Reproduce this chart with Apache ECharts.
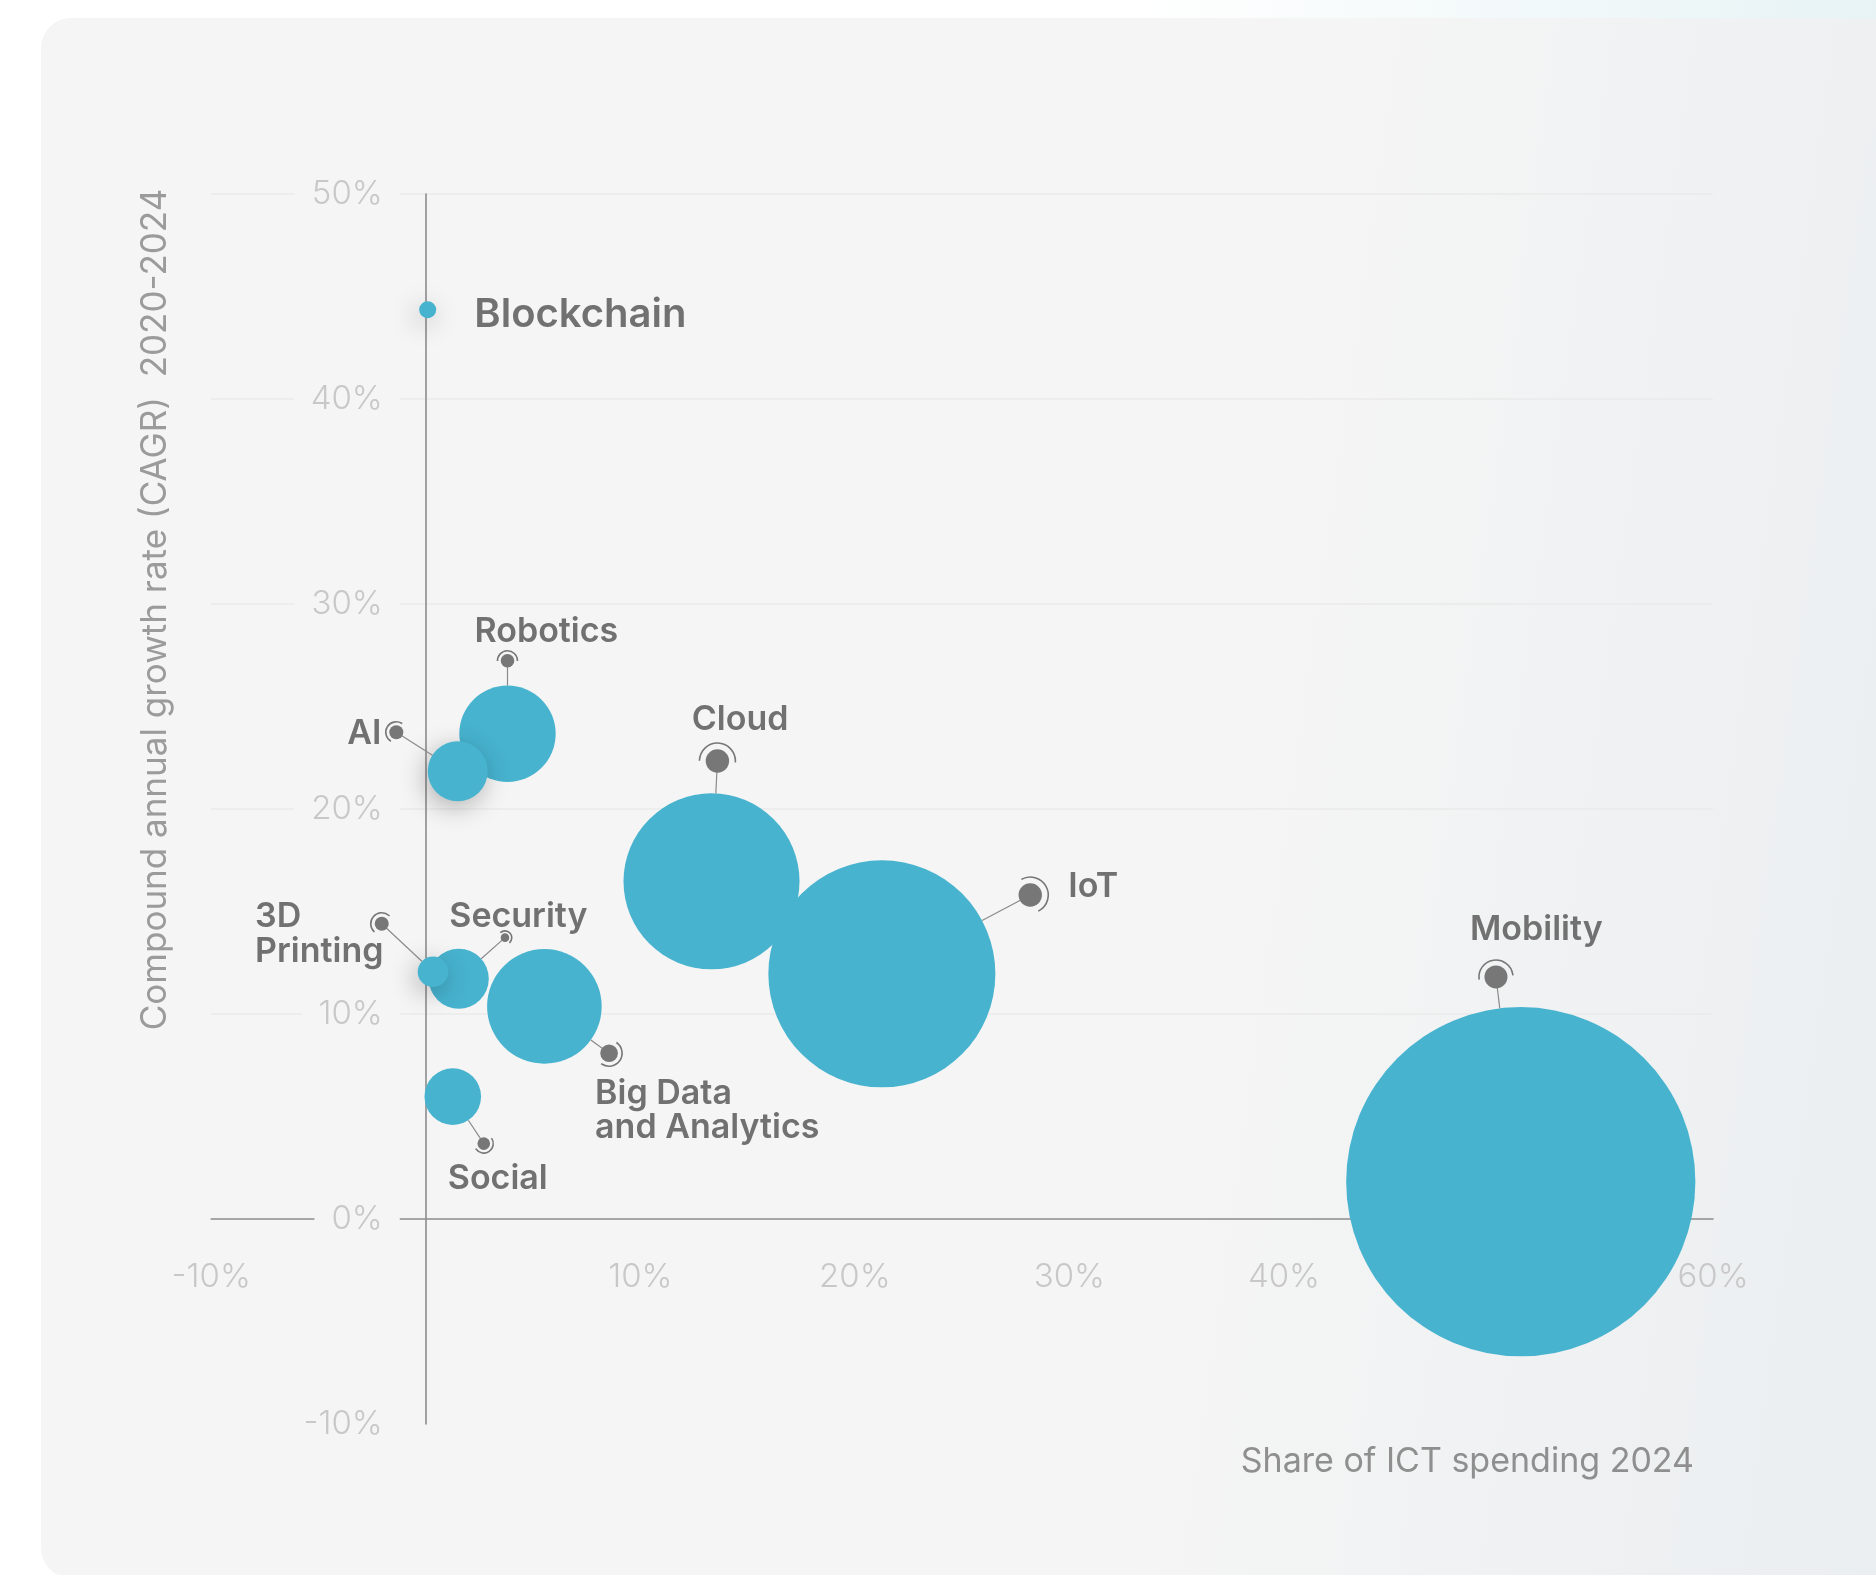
<!DOCTYPE html>
<html>
<head>
<meta charset="utf-8">
<script src="https://cdn.jsdelivr.net/npm/echarts@6/dist/echarts.min.js"></script>
<style>
  html, body { margin: 0; padding: 0; width: 1876px; height: 1575px; overflow: hidden;
    background: linear-gradient(90deg, #ffffff 0%, #ffffff 60%, #e7f3f5 100%); }
  #card { position: absolute; left: 41px; top: 18px; width: 1900px; height: 1560px;
    border-radius: 30px;
    background: linear-gradient(98deg, #f5f5f5 0%, #f5f5f5 62%, #eff1f2 82%, #e9eef0 100%); }
  #chart { position: absolute; left: 0; top: 0; width: 1876px; height: 1575px; }
</style>
</head>
<body>
<div id="card"></div>
<div id="chart"></div>
<script>
// ---- data ----
const categories = ['Blockchain', 'Robotics', 'AI', 'Cloud', 'IoT', 'Security', '3D Printing', 'Big Data and Analytics', 'Social', 'Mobility'];
const labelText = ['Blockchain', 'Robotics', 'AI', 'Cloud', 'IoT', 'Security', '3D\nPrinting', 'Big Data\nand Analytics', 'Social', 'Mobility'];
const ictShare2024 = [0.09, 3.81, 1.49, 13.32, 21.26, 1.54, 0.34, 5.53, 1.26, 51.04];
const cagr2020to2024 = [44.35, 23.67, 21.84, 16.47, 11.96, 11.72, 12.06, 10.37, 5.97, 1.82];
const bubbleValue = [2.9, 92.9, 36, 309.8, 515.3, 36, 9.4, 131.3, 32, 1219.4];
const xTickRange = { min: -10, max: 60, step: 10 };
const yTickRange = { min: -10, max: 50, step: 10 };
const xTitle = 'Share of ICT spending 2024';
const yTitle = 'Compound annual growth rate (CAGR)  2020-2024';

// ---- styling / annotation layout (pixel offsets from bubble centre) ----
const FONT = 'Inter, "Noto Sans", sans-serif';
const BUBBLE = '#47b3cf';
const PIN = '#777777';
const LABEL = '#717171';
const TICK = '#c8c8c8';
const GRID = { left: 211.2, right: 163, top: 194, bottom: 151 };
const H = 1575;
const TEXT_DY = 2.5;
const shadowed = ['Blockchain', 'AI', '3D Printing'];
const annot = {
  'Blockchain': { label: [46.7, 2.7], align: 'left', size: 40 },
  'Robotics': { dot: [0, -73], r: 6.8, arc: 10, label: [-33, -31], align: 'left' },
  'AI': { dot: [-61.4, -39], r: 7, arc: 10.5, label: [-15, -0.6], align: 'right' },
  'Cloud': { dot: [5.9, -120.3], r: 11.7, arc: 18, label: [-25.6, -43.6], align: 'left' },
  'IoT': { dot: [148.4, -78.8], r: 11.7, arc: 18, label: [38, -11], align: 'left' },
  'Security': { dot: [46.2, -41.1], r: 4.3, arc: 6.8, label: [-55.7, -23.7], align: 'left' },
  '3D Printing': { dot: [-51.3, -48], r: 7, arc: 11, label: [-126.7, 7.8], align: 'left', lh: 34.6 },
  'Big Data and Analytics': { dot: [64.7, 46.8], r: 8.8, arc: 13, label: [-14, 55], align: 'left', lh: 34.6 },
  'Social': { dot: [31, 47], r: 6.3, arc: 9.5, label: [-36, 33], align: 'left' },
  'Mobility': { dot: [-24.8, -204.7], r: 11.5, arc: 17, label: [-26, -50], align: 'left' }
};
const sizeOf = v => Math.sqrt(v) * 10;

const bubbleData = categories.map((name, i) => {
  const item = { name: name, value: [ictShare2024[i], cagr2020to2024[i], bubbleValue[i], i] };
  if (shadowed.indexOf(name) >= 0) {
    item.itemStyle = { shadowBlur: 26, shadowColor: 'rgba(0,0,0,0.28)', shadowOffsetX: -3, shadowOffsetY: 6 };
  }
  return item;
});

function renderAnnotation(params, api) {
  const i = api.value(3);
  const name = categories[i];
  const a = annot[name];
  const c = api.coord([api.value(0), api.value(1)]);
  const rb = sizeOf(api.value(2)) / 2;
  const children = [];
  if (a.dot) {
    const dx = a.dot[0], dy = a.dot[1];
    const len = Math.sqrt(dx * dx + dy * dy);
    const ux = dx / len, uy = dy / len;
    const px = c[0] + dx, py = c[1] + dy;
    children.push({ type: 'line', shape: { x1: c[0] + ux * rb, y1: c[1] + uy * rb, x2: px, y2: py },
      style: { stroke: '#8a8a8a', lineWidth: 1.2 } });
    children.push({ type: 'circle', shape: { cx: px, cy: py, r: a.r }, style: { fill: PIN } });
    const th = Math.atan2(dy, dx);
    children.push({ type: 'arc', shape: { cx: px, cy: py, r: a.arc, startAngle: th - 1.6, endAngle: th + 1.6, clockwise: true },
      style: { stroke: PIN, lineWidth: 1.6, fill: null } });
    children.push({ type: 'text', x: px + a.label[0], y: py + a.label[1] + TEXT_DY,
      style: { text: labelText[i], fill: LABEL, fontSize: 34, fontWeight: 600, fontFamily: FONT,
        align: a.align, verticalAlign: 'middle', lineHeight: a.lh || 36 } });
  } else {
    children.push({ type: 'text', x: c[0] + a.label[0], y: c[1] + a.label[1] + TEXT_DY,
      style: { text: labelText[i], fill: LABEL, fontSize: a.size, fontWeight: 600, fontFamily: FONT,
        align: a.align, verticalAlign: 'middle' } });
  }
  return { type: 'group', children: children };
}

const chart = echarts.init(document.getElementById('chart'), null, { renderer: 'canvas' });
const option = {
  backgroundColor: 'transparent',
  animation: false,
  grid: { left: GRID.left, right: GRID.right, top: GRID.top, bottom: GRID.bottom, containLabel: false },
  xAxis: {
    type: 'value', min: xTickRange.min, max: xTickRange.max, interval: xTickRange.step, z: 0,
    axisLine: { show: true, onZero: false, lineStyle: { color: '#8c8c8c', width: 1.6 } },
    axisTick: { show: false },
    splitLine: { show: false },
    axisLabel: { formatter: v => (v === 0 ? '' : v + '%'), color: TICK, fontSize: 33,
      fontFamily: FONT, fontWeight: 300, margin: 41.5 }
  },
  yAxis: {
    type: 'value', min: yTickRange.min, max: yTickRange.max, interval: yTickRange.step, z: 1,
    axisLine: { show: true, onZero: false, lineStyle: { color: '#8c8c8c', width: 1.6 } },
    axisTick: { show: false },
    splitLine: { show: true, lineStyle: { width: 1.5,
      color: ['rgba(0,0,0,0)', 'rgba(0,0,0,0)', '#eaeaea', '#eaeaea', '#eaeaea', '#eaeaea', '#eaeaea'] } },
    axisLabel: { formatter: '{value}%', color: TICK, fontSize: 33, fontFamily: FONT, fontWeight: 300,
      margin: 26, backgroundColor: '#f5f5f5', padding: [8, 17, 1, 17] }
  },
  graphic: [
    { type: 'text', x: 155, y: 609.5, rotation: Math.PI / 2,
      style: { text: yTitle, align: 'center', verticalAlign: 'middle',
        fill: '#9b9b9b', fontSize: 35, fontFamily: FONT, fontWeight: 400 } },
    { type: 'text', x: 1694, y: 1462,
      style: { text: xTitle, align: 'right', verticalAlign: 'middle',
        fill: '#8f8f8f', fontSize: 34, fontFamily: FONT, fontWeight: 400 } }
  ],
  series: [
    {
      type: 'scatter', name: 'bubbles', z: 2,
      data: bubbleData,
      symbolSize: val => sizeOf(val[2]),
      itemStyle: { color: BUBBLE, opacity: 1 },
      emphasis: { disabled: true }
    },
    {
      type: 'custom', name: 'annotations', z: 3, clip: false,
      data: categories.map((n, i) => [ictShare2024[i], cagr2020to2024[i], bubbleValue[i], i]),
      renderItem: renderAnnotation,
      silent: true
    }
  ]
};
chart.setOption(option);
// Move both axes (line + labels) onto the zero crossing using the library's own scales.
const px0 = chart.convertToPixel({ xAxisIndex: 0 }, 0);
const py0 = chart.convertToPixel({ yAxisIndex: 0 }, 0);
chart.setOption({
  yAxis: { offset: -(px0 - GRID.left) },
  xAxis: { offset: -((H - GRID.bottom) - py0) }
});
</script>
</body>
</html>
